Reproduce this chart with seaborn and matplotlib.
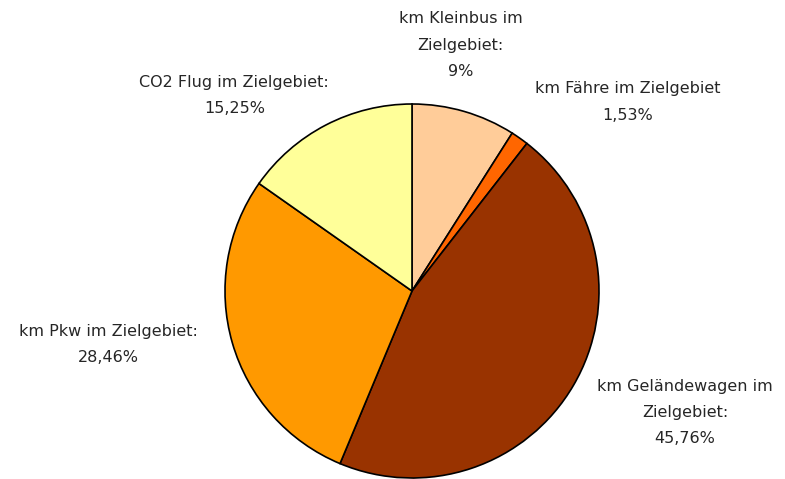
import matplotlib.pyplot as plt
import seaborn as sns

categories = ["km Kleinbus im\nZielgebiet:", "km Fähre im Zielgebiet",
              "km Geländewagen im\nZielgebiet:", "km Pkw im Zielgebiet:",
              "CO2 Flug im Zielgebiet:"]
shares = [9.0, 1.53, 45.76, 28.46, 15.25]
pct_labels = ["9%", "1,53%", "45,76%", "28,46%", "15,25%"]
colors = ["#FFCC99", "#FF6600", "#993300", "#FF9900", "#FFFF99"]

# label centres in pie units (radius = 1)
label_pos = [(0.26, 1.315), (1.155, 1.01), (1.46, -0.65), (-1.625, -0.285), (-0.95, 1.045)]

sns.set_style("white")
plt.rcParams["font.family"] = ["DejaVu Sans"]

fig = plt.figure(figsize=(7.85, 4.79), dpi=100)
ax = fig.add_axes([0, 0, 1, 1])

r_px = 187
cx, cy = 412, 479 - 291
ax.pie(shares, colors=colors, startangle=90, counterclock=False, radius=1,
       wedgeprops=dict(edgecolor="black", linewidth=1.2))
ax.set_xlim(-cx / r_px, (785 - cx) / r_px)
ax.set_ylim(-cy / r_px, (479 - cy) / r_px)
ax.set_aspect("equal")
ax.axis("off")

for cat, pct, (x, y) in zip(categories, pct_labels, label_pos):
    ax.text(x, y, f"{cat}\n{pct}", ha="center", va="center", fontsize=11.5,
            color="#262626", linespacing=1.95)

fig.savefig("out.png", dpi=100)
plt.close()
